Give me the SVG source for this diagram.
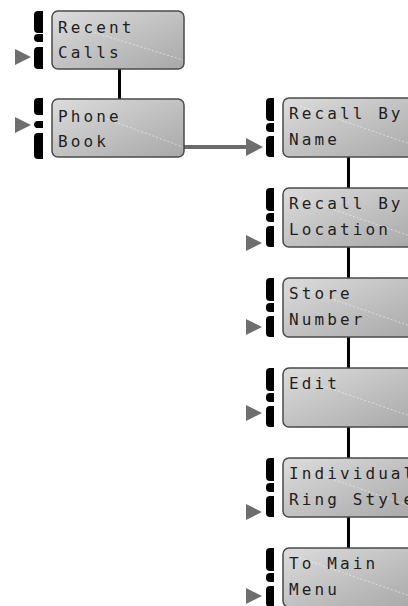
<svg xmlns="http://www.w3.org/2000/svg" width="408" height="606" viewBox="0 0 408 606">
<defs>
<linearGradient id="g" x1="0" y1="0" x2="1" y2="1">
<stop offset="0" stop-color="#dcdcdc"/>
<stop offset="1" stop-color="#a8a8a8"/>
</linearGradient>
<g id="brR">
<path d="M8,0 H4 A4,4 0 0 0 0,4 V19 A4,4 0 0 0 4,23 H8 Z"/>
<path d="M8,25 H4 A4,4 0 0 0 0,29 V30 A4,4 0 0 0 4,34 H8 Z"/>
<path d="M8,38 H4 A4,4 0 0 0 0,42 V55 A4,4 0 0 0 4,59 H8 Z"/>
</g>
<polygon id="tri" points="0,-8 16,0 0,8"/>
</defs>
<style>
.br{fill:#000}
.box{fill:url(#g);stroke:#4a4a4a;stroke-width:1.5}
.hl{stroke:#fff;stroke-opacity:.5;stroke-width:1;stroke-dasharray:2 2;fill:none}
.t{font-family:"DejaVu Sans Mono","Liberation Mono",monospace;font-size:16px;letter-spacing:3.1px;fill:#1e1e1e}
.ar{fill:#6e6e6e}
.vc{stroke:#000;stroke-width:3}
</style>
<rect width="408" height="606" fill="#fff"/>
<g id="connectors">
<line class="vc" x1="119.5" y1="69" x2="119.5" y2="99"/>
<line class="vc" x1="348.5" y1="157" x2="348.5" y2="188"/>
<line class="vc" x1="348.5" y1="247" x2="348.5" y2="278"/>
<line class="vc" x1="348.5" y1="337" x2="348.5" y2="368"/>
<line class="vc" x1="348.5" y1="427" x2="348.5" y2="458"/>
<line class="vc" x1="348.5" y1="517" x2="348.5" y2="548"/>
<line x1="184" y1="147" x2="248" y2="147" stroke="#6a6a6a" stroke-width="4"/>
<polygon class="ar" points="246,138 263,147 246,156"/>
</g>
<g id="recent-calls">
<g class="br" transform="translate(34,11)">
<path d="M9,0 H4 A4,4 0 0 0 0,4 V18 A4,4 0 0 0 4,22 H9 Z"/>
<path d="M9,23 H4 A4,4 0 0 0 0,27 V27 A4,4 0 0 0 4,31 H9 Z"/>
<path d="M9,36 H4 A4,4 0 0 0 0,40 V54 A4,4 0 0 0 4,58 H9 Z"/>
</g>
<use href="#tri" class="ar" x="15" y="57"/>
<rect class="box" x="52" y="11" width="132" height="58" rx="6"/>
<line class="hl" x1="64" y1="23" x2="183" y2="60"/>
<text class="t" x="58" y="33">Recent</text>
<text class="t" x="58" y="58">Calls</text>
</g>
<g id="phone-book">
<g class="br" transform="translate(34,98)">
<path d="M9,0 H4 A4,4 0 0 0 0,4 V13 A4,4 0 0 0 4,17 H9 Z"/>
<path d="M9,23 H4 A3.5,3.5 0 0 0 0,26.5 V26.5 A3.5,3.5 0 0 0 4,30 H9 Z"/>
<path d="M9,35 H4 A4,4 0 0 0 0,39 V57 A4,4 0 0 0 4,61 H9 Z"/>
</g>
<use href="#tri" class="ar" x="15" y="125"/>
<rect class="box" x="52" y="99" width="132" height="58" rx="6"/>
<line class="hl" x1="96" y1="115" x2="183" y2="147"/>
<text class="t" x="58" y="122">Phone</text>
<text class="t" x="58" y="147">Book</text>
</g>
<g id="recall-by-name">
<use href="#brR" class="br" x="266" y="98"/>
<rect class="box" x="283" y="98" width="134" height="59" rx="6"/>
<line class="hl" x1="300" y1="106" x2="416" y2="146"/>
<text class="t" x="289" y="119">Recall By</text>
<text class="t" x="289" y="145">Name</text>
</g>
<g id="recall-by-location">
<use href="#brR" class="br" x="266" y="188"/>
<use href="#tri" class="ar" x="246" y="243"/>
<rect class="box" x="283" y="188" width="134" height="59" rx="6"/>
<line class="hl" x1="300" y1="198" x2="416" y2="238"/>
<text class="t" x="289" y="209">Recall By</text>
<text class="t" x="289" y="235">Location</text>
</g>
<g id="store-number">
<use href="#brR" class="br" x="266" y="278"/>
<use href="#tri" class="ar" x="246" y="327"/>
<rect class="box" x="283" y="278" width="134" height="59" rx="6"/>
<line class="hl" x1="300" y1="288" x2="416" y2="328"/>
<text class="t" x="289" y="299">Store</text>
<text class="t" x="289" y="325">Number</text>
</g>
<g id="edit">
<use href="#brR" class="br" x="266" y="368"/>
<use href="#tri" class="ar" x="246" y="413"/>
<rect class="box" x="283" y="368" width="134" height="59" rx="6"/>
<line class="hl" x1="300" y1="378" x2="416" y2="418"/>
<text class="t" x="289" y="389">Edit</text>
</g>
<g id="individual-ring-style">
<use href="#brR" class="br" x="266" y="458"/>
<use href="#tri" class="ar" x="246" y="512"/>
<rect class="box" x="283" y="458" width="134" height="59" rx="6"/>
<line class="hl" x1="300" y1="468" x2="416" y2="508"/>
<text class="t" x="289" y="479">Individual</text>
<text class="t" x="289" y="505">Ring Style</text>
</g>
<g id="to-main-menu">
<use href="#brR" class="br" x="266" y="548"/>
<use href="#tri" class="ar" x="246" y="596"/>
<rect class="box" x="283" y="548" width="134" height="59" rx="6"/>
<line class="hl" x1="300" y1="558" x2="416" y2="598"/>
<text class="t" x="289" y="569">To Main</text>
<text class="t" x="289" y="595">Menu</text>
</g>
</svg>
